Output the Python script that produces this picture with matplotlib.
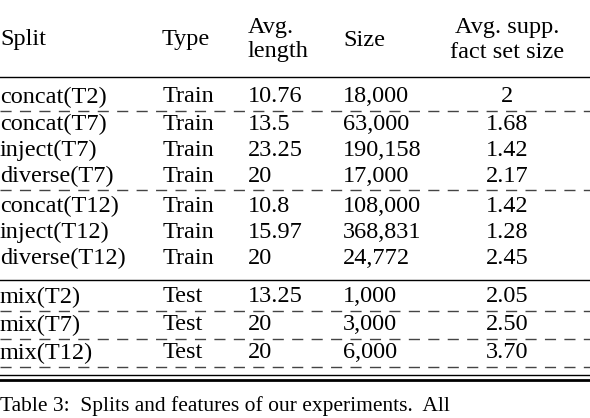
import matplotlib.pyplot as plt

plt.rcParams['font.family'] = ['Liberation Serif', 'DejaVu Serif']

splits = ['concat(T2)', 'concat(T7)', 'inject(T7)', 'diverse(T7)', 'concat(T12)',
          'inject(T12)', 'diverse(T12)', 'mix(T2)', 'mix(T7)', 'mix(T12)']
types = ['Train'] * 7 + ['Test'] * 3
avg_len = ['10.76', '13.5', '23.25', '20', '10.8', '15.97', '20', '13.25', '20', '20']
sizes = ['18,000', '63,000', '190,158', '17,000', '108,000', '368,831', '24,772',
         '1,000', '3,000', '6,000']
supp = ['2', '1.68', '1.42', '2.17', '1.42', '1.28', '2.45', '2.05', '2.50', '3.70']

row_y = [97, 124, 150, 176, 206, 232, 258, 297, 325, 353]
fs = 17.5

fig = plt.figure(figsize=(5.9, 4.18), dpi=100)
ax = fig.add_axes([0, 0, 1, 1])
ax.set_xlim(0, 590)
ax.set_ylim(418, 0)
ax.axis('off')

# header
ax.text(0, 40, 'Split', fontsize=fs, va='center')
ax.text(162, 40, 'Type', fontsize=fs, va='center')
ax.text(248, 27, 'Avg.', fontsize=fs, va='center')
ax.text(248, 52, 'length', fontsize=fs, va='center')
ax.text(343, 40, 'Size', fontsize=fs, va='center')
ax.text(507, 27, 'Avg. supp.', fontsize=fs, va='center', ha='center')
ax.text(507, 52, 'fact set size', fontsize=fs, va='center', ha='center')

for i, y in enumerate(row_y):
    ax.text(0, y, splits[i], fontsize=fs, va='center')
    ax.text(163, y, types[i], fontsize=fs, va='center')
    ax.text(248, y, avg_len[i], fontsize=fs, va='center')
    ax.text(343, y, sizes[i], fontsize=fs, va='center')
    ax.text(507, y, supp[i], fontsize=fs, va='center', ha='center')

ax.plot([0, 590], [77, 77], color='black', lw=1)
ax.plot([0, 590], [280, 280], color='black', lw=1)
for y in [111, 190, 311, 339, 367]:
    ax.plot([0, 590], [y, y], color='#444444', lw=1, dashes=(8, 6))
ax.plot([0, 590], [375, 375], color='black', lw=1)
ax.plot([0, 590], [380, 380], color='black', lw=2)

ax.text(0, 406, 'Table 3:  Splits and features of our experiments.  All',
        fontsize=fs - 2, va='center')

fig.savefig('out.png', dpi=100)
